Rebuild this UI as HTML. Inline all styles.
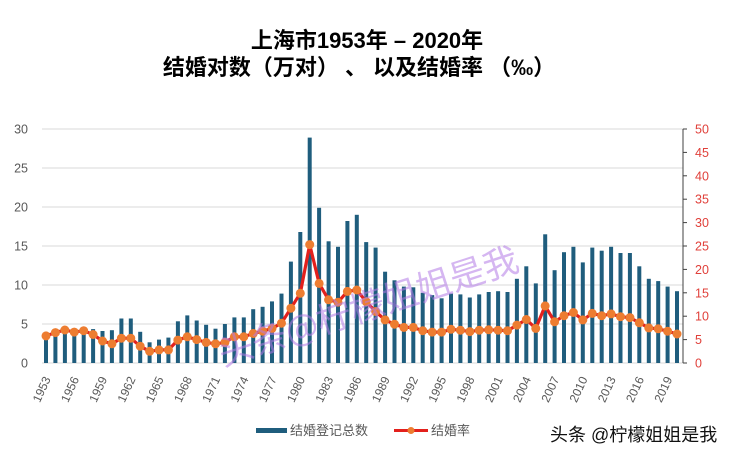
<!DOCTYPE html>
<html><head><meta charset="utf-8"><style>
html,body{margin:0;padding:0;background:#fff;}
svg{display:block;}
</style></head><body>
<svg width="734" height="458" viewBox="0 0 734 458" xmlns="http://www.w3.org/2000/svg">
<rect width="734" height="458" fill="#fff"/>
<g font-family="'Liberation Sans','Noto Sans CJK SC',sans-serif" font-weight="bold" fill="#000" text-anchor="middle" font-size="22">
<text x="367" y="48">上海市1953年 – 2020年</text>
<text x="359" y="75">结婚对数（万对） 、 以及结婚率 （‰）</text>
</g>
<g stroke="#d9d9d9" stroke-width="1">
<line x1="42" y1="129" x2="683" y2="129"/><line x1="42" y1="168" x2="683" y2="168"/><line x1="42" y1="207" x2="683" y2="207"/><line x1="42" y1="246" x2="683" y2="246"/><line x1="42" y1="285" x2="683" y2="285"/><line x1="42" y1="324" x2="683" y2="324"/><line x1="42" y1="363" x2="683" y2="363"/>
</g>
<g font-family="'Liberation Sans',sans-serif" font-size="12.5" fill="#595959" text-anchor="end">
<text x="28" y="133.5">30</text><text x="28" y="172.5">25</text><text x="28" y="211.5">20</text><text x="28" y="250.5">15</text><text x="28" y="289.5">10</text><text x="28" y="328.5">5</text><text x="28" y="367.5">0</text>
</g>
<g stroke="#404040" stroke-width="1">
<line x1="683" y1="129" x2="683" y2="363"/>
<line x1="683" y1="129" x2="687" y2="129"/><line x1="683" y1="152.4" x2="687" y2="152.4"/><line x1="683" y1="175.8" x2="687" y2="175.8"/><line x1="683" y1="199.2" x2="687" y2="199.2"/><line x1="683" y1="222.6" x2="687" y2="222.6"/><line x1="683" y1="246" x2="687" y2="246"/><line x1="683" y1="269.4" x2="687" y2="269.4"/><line x1="683" y1="292.8" x2="687" y2="292.8"/><line x1="683" y1="316.2" x2="687" y2="316.2"/><line x1="683" y1="339.6" x2="687" y2="339.6"/><line x1="683" y1="363" x2="687" y2="363"/>
</g>
<g font-family="'Liberation Sans',sans-serif" font-size="12.5" fill="#e0403a">
<text x="695" y="133.5">50</text><text x="695" y="156.9">45</text><text x="695" y="180.3">40</text><text x="695" y="203.7">35</text><text x="695" y="227.1">30</text><text x="695" y="250.5">25</text><text x="695" y="273.9">20</text><text x="695" y="297.3">15</text><text x="695" y="320.7">10</text><text x="695" y="344.1">5</text><text x="695" y="367.5">0</text>
</g>
<g fill="#1f5d7d">
<rect x="44.0" y="333.4" width="4" height="29.6"/>
<rect x="53.4" y="331.0" width="4" height="32.0"/>
<rect x="62.9" y="328.7" width="4" height="34.3"/>
<rect x="72.3" y="331.0" width="4" height="32.0"/>
<rect x="81.7" y="330.2" width="4" height="32.8"/>
<rect x="91.1" y="329.1" width="4" height="33.9"/>
<rect x="100.5" y="331.0" width="4" height="32.0"/>
<rect x="109.9" y="330.2" width="4" height="32.8"/>
<rect x="119.4" y="318.5" width="4" height="44.5"/>
<rect x="128.8" y="318.5" width="4" height="44.5"/>
<rect x="138.2" y="331.8" width="4" height="31.2"/>
<rect x="147.6" y="342.3" width="4" height="20.7"/>
<rect x="157.0" y="339.6" width="4" height="23.4"/>
<rect x="166.4" y="337.6" width="4" height="25.4"/>
<rect x="175.9" y="321.3" width="4" height="41.7"/>
<rect x="185.3" y="315.4" width="4" height="47.6"/>
<rect x="194.7" y="320.5" width="4" height="42.5"/>
<rect x="204.1" y="324.8" width="4" height="38.2"/>
<rect x="213.5" y="328.7" width="4" height="34.3"/>
<rect x="222.9" y="324.0" width="4" height="39.0"/>
<rect x="232.4" y="317.4" width="4" height="45.6"/>
<rect x="241.8" y="317.4" width="4" height="45.6"/>
<rect x="251.2" y="309.2" width="4" height="53.8"/>
<rect x="260.6" y="306.8" width="4" height="56.2"/>
<rect x="270.0" y="301.4" width="4" height="61.6"/>
<rect x="279.5" y="293.6" width="4" height="69.4"/>
<rect x="288.9" y="261.6" width="4" height="101.4"/>
<rect x="298.3" y="232.0" width="4" height="131.0"/>
<rect x="307.7" y="137.6" width="4" height="225.4"/>
<rect x="317.1" y="207.8" width="4" height="155.2"/>
<rect x="326.6" y="241.3" width="4" height="121.7"/>
<rect x="336.0" y="246.8" width="4" height="116.2"/>
<rect x="345.4" y="221.0" width="4" height="142.0"/>
<rect x="354.8" y="214.8" width="4" height="148.2"/>
<rect x="364.2" y="242.1" width="4" height="120.9"/>
<rect x="373.6" y="247.6" width="4" height="115.4"/>
<rect x="383.1" y="271.7" width="4" height="91.3"/>
<rect x="392.5" y="280.3" width="4" height="82.7"/>
<rect x="401.9" y="286.6" width="4" height="76.4"/>
<rect x="411.3" y="287.3" width="4" height="75.7"/>
<rect x="420.7" y="292.8" width="4" height="70.2"/>
<rect x="430.2" y="295.1" width="4" height="67.9"/>
<rect x="439.6" y="298.3" width="4" height="64.7"/>
<rect x="449.0" y="293.6" width="4" height="69.4"/>
<rect x="458.4" y="294.4" width="4" height="68.6"/>
<rect x="467.8" y="297.5" width="4" height="65.5"/>
<rect x="477.2" y="294.4" width="4" height="68.6"/>
<rect x="486.7" y="292.0" width="4" height="71.0"/>
<rect x="496.1" y="291.2" width="4" height="71.8"/>
<rect x="505.5" y="292.0" width="4" height="71.0"/>
<rect x="514.9" y="278.8" width="4" height="84.2"/>
<rect x="524.3" y="266.3" width="4" height="96.7"/>
<rect x="533.8" y="283.4" width="4" height="79.6"/>
<rect x="543.2" y="234.3" width="4" height="128.7"/>
<rect x="552.6" y="270.2" width="4" height="92.8"/>
<rect x="562.0" y="252.2" width="4" height="110.8"/>
<rect x="571.4" y="246.8" width="4" height="116.2"/>
<rect x="580.8" y="262.4" width="4" height="100.6"/>
<rect x="590.3" y="247.6" width="4" height="115.4"/>
<rect x="599.7" y="250.7" width="4" height="112.3"/>
<rect x="609.1" y="246.8" width="4" height="116.2"/>
<rect x="618.5" y="253.0" width="4" height="110.0"/>
<rect x="627.9" y="253.0" width="4" height="110.0"/>
<rect x="637.3" y="266.3" width="4" height="96.7"/>
<rect x="646.8" y="278.8" width="4" height="84.2"/>
<rect x="656.2" y="281.1" width="4" height="81.9"/>
<rect x="665.6" y="286.6" width="4" height="76.4"/>
<rect x="675.0" y="291.2" width="4" height="71.8"/>
</g>
<polyline fill="none" stroke="#e3201c" stroke-width="3.2" stroke-linejoin="round" points="46.01,335.9 55.43,332.6 64.85,330.0 74.26,332.1 83.68,330.7 93.10,334.5 102.52,341.0 111.94,343.8 121.35,338.2 130.77,338.2 140.19,346.2 149.61,351.3 159.03,349.9 168.44,349.9 177.86,340.1 187.28,336.8 196.70,339.6 206.12,342.4 215.53,343.8 224.95,342.4 234.37,336.8 243.79,336.8 253.21,333.5 262.62,331.2 272.04,328.4 281.46,323.2 290.88,308.2 300.30,293.3 309.71,244.6 319.13,283.4 328.55,299.8 337.97,302.2 347.39,291.4 356.80,290.0 366.22,301.7 375.64,311.5 385.06,319.9 394.48,324.2 403.89,327.4 413.31,327.4 422.73,330.7 432.15,332.1 441.57,332.1 450.98,329.3 460.40,330.2 469.82,331.6 479.24,330.2 488.66,329.8 498.07,330.2 507.49,330.7 516.91,325.1 526.33,319.5 535.75,328.4 545.16,305.9 554.58,321.8 564.00,315.7 573.42,312.5 582.84,319.9 592.25,313.4 601.67,315.7 611.09,313.9 620.51,316.7 629.93,317.6 639.34,322.8 648.76,327.9 658.18,328.8 667.60,331.2 677.02,334.0"/>
<g fill="#ed7d31">
<circle cx="46.01" cy="335.9" r="4.5"/><circle cx="55.43" cy="332.6" r="4.5"/><circle cx="64.85" cy="330.0" r="4.5"/><circle cx="74.26" cy="332.1" r="4.5"/><circle cx="83.68" cy="330.7" r="4.5"/><circle cx="93.10" cy="334.5" r="4.5"/><circle cx="102.52" cy="341.0" r="4.5"/><circle cx="111.94" cy="343.8" r="4.5"/><circle cx="121.35" cy="338.2" r="4.5"/><circle cx="130.77" cy="338.2" r="4.5"/><circle cx="140.19" cy="346.2" r="4.5"/><circle cx="149.61" cy="351.3" r="4.5"/><circle cx="159.03" cy="349.9" r="4.5"/><circle cx="168.44" cy="349.9" r="4.5"/><circle cx="177.86" cy="340.1" r="4.5"/><circle cx="187.28" cy="336.8" r="4.5"/><circle cx="196.70" cy="339.6" r="4.5"/><circle cx="206.12" cy="342.4" r="4.5"/><circle cx="215.53" cy="343.8" r="4.5"/><circle cx="224.95" cy="342.4" r="4.5"/><circle cx="234.37" cy="336.8" r="4.5"/><circle cx="243.79" cy="336.8" r="4.5"/><circle cx="253.21" cy="333.5" r="4.5"/><circle cx="262.62" cy="331.2" r="4.5"/><circle cx="272.04" cy="328.4" r="4.5"/><circle cx="281.46" cy="323.2" r="4.5"/><circle cx="290.88" cy="308.2" r="4.5"/><circle cx="300.30" cy="293.3" r="4.5"/><circle cx="309.71" cy="244.6" r="4.5"/><circle cx="319.13" cy="283.4" r="4.5"/><circle cx="328.55" cy="299.8" r="4.5"/><circle cx="337.97" cy="302.2" r="4.5"/><circle cx="347.39" cy="291.4" r="4.5"/><circle cx="356.80" cy="290.0" r="4.5"/><circle cx="366.22" cy="301.7" r="4.5"/><circle cx="375.64" cy="311.5" r="4.5"/><circle cx="385.06" cy="319.9" r="4.5"/><circle cx="394.48" cy="324.2" r="4.5"/><circle cx="403.89" cy="327.4" r="4.5"/><circle cx="413.31" cy="327.4" r="4.5"/><circle cx="422.73" cy="330.7" r="4.5"/><circle cx="432.15" cy="332.1" r="4.5"/><circle cx="441.57" cy="332.1" r="4.5"/><circle cx="450.98" cy="329.3" r="4.5"/><circle cx="460.40" cy="330.2" r="4.5"/><circle cx="469.82" cy="331.6" r="4.5"/><circle cx="479.24" cy="330.2" r="4.5"/><circle cx="488.66" cy="329.8" r="4.5"/><circle cx="498.07" cy="330.2" r="4.5"/><circle cx="507.49" cy="330.7" r="4.5"/><circle cx="516.91" cy="325.1" r="4.5"/><circle cx="526.33" cy="319.5" r="4.5"/><circle cx="535.75" cy="328.4" r="4.5"/><circle cx="545.16" cy="305.9" r="4.5"/><circle cx="554.58" cy="321.8" r="4.5"/><circle cx="564.00" cy="315.7" r="4.5"/><circle cx="573.42" cy="312.5" r="4.5"/><circle cx="582.84" cy="319.9" r="4.5"/><circle cx="592.25" cy="313.4" r="4.5"/><circle cx="601.67" cy="315.7" r="4.5"/><circle cx="611.09" cy="313.9" r="4.5"/><circle cx="620.51" cy="316.7" r="4.5"/><circle cx="629.93" cy="317.6" r="4.5"/><circle cx="639.34" cy="322.8" r="4.5"/><circle cx="648.76" cy="327.9" r="4.5"/><circle cx="658.18" cy="328.8" r="4.5"/><circle cx="667.60" cy="331.2" r="4.5"/><circle cx="677.02" cy="334.0" r="4.5"/>
</g>
<g font-family="'Liberation Sans',sans-serif" font-size="12" fill="#595959" text-anchor="end">
<text transform="translate(51.0,379) rotate(-65)">1953</text>
<text transform="translate(79.3,379) rotate(-65)">1956</text>
<text transform="translate(107.5,379) rotate(-65)">1959</text>
<text transform="translate(135.8,379) rotate(-65)">1962</text>
<text transform="translate(164.0,379) rotate(-65)">1965</text>
<text transform="translate(192.3,379) rotate(-65)">1968</text>
<text transform="translate(220.5,379) rotate(-65)">1971</text>
<text transform="translate(248.8,379) rotate(-65)">1974</text>
<text transform="translate(277.0,379) rotate(-65)">1977</text>
<text transform="translate(305.3,379) rotate(-65)">1980</text>
<text transform="translate(333.6,379) rotate(-65)">1983</text>
<text transform="translate(361.8,379) rotate(-65)">1986</text>
<text transform="translate(390.1,379) rotate(-65)">1989</text>
<text transform="translate(418.3,379) rotate(-65)">1992</text>
<text transform="translate(446.6,379) rotate(-65)">1995</text>
<text transform="translate(474.8,379) rotate(-65)">1998</text>
<text transform="translate(503.1,379) rotate(-65)">2001</text>
<text transform="translate(531.3,379) rotate(-65)">2004</text>
<text transform="translate(559.6,379) rotate(-65)">2007</text>
<text transform="translate(587.8,379) rotate(-65)">2010</text>
<text transform="translate(616.1,379) rotate(-65)">2013</text>
<text transform="translate(644.3,379) rotate(-65)">2016</text>
<text transform="translate(672.6,379) rotate(-65)">2019</text>
</g>
<text transform="translate(372,318) rotate(-18)" text-anchor="middle" font-family="'Noto Sans CJK SC',sans-serif" font-size="35" fill="#b27ae6" fill-opacity="0.55">头条@柠檬姐姐是我</text>
<rect x="256" y="428" width="31" height="5" fill="#1f5d7d"/>
<text x="290" y="435" font-family="'Liberation Sans','Noto Sans CJK SC',sans-serif" font-size="13" fill="#595959">结婚登记总数</text>
<line x1="394" y1="430.5" x2="428" y2="430.5" stroke="#e3201c" stroke-width="3"/>
<circle cx="411" cy="430.5" r="3.5" fill="#ed7d31"/>
<text x="431" y="435" font-family="'Liberation Sans','Noto Sans CJK SC',sans-serif" font-size="13" fill="#595959">结婚率</text>
<text x="550" y="441" font-family="'Liberation Sans','Noto Sans CJK SC',sans-serif" font-size="18" fill="#111">头条 @柠檬姐姐是我</text>
</svg>
</body></html>
